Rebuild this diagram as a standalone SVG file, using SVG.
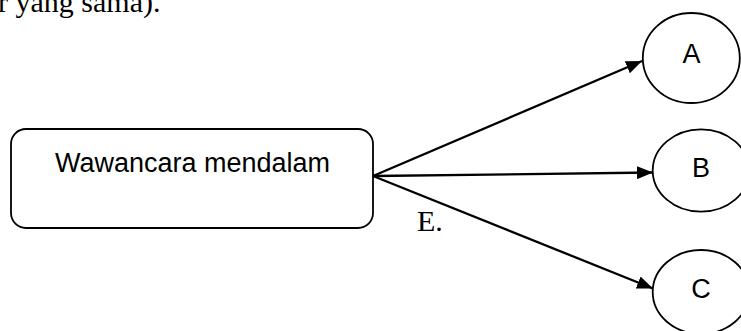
<svg xmlns="http://www.w3.org/2000/svg" width="741" height="331" viewBox="0 0 741 331">
<style>
.shape{fill:#fff;stroke:#000;stroke-width:1.8}
.lbl{font-family:"Liberation Sans",Arial,sans-serif;font-size:27px;fill:#000}
.tnr{font-family:"Liberation Serif","Times New Roman",serif;font-size:30px;fill:#000}
.conn{stroke:#000;stroke-width:2.3;fill:none;marker-end:url(#arr)}
</style>
<defs>
<marker id="arr" markerUnits="userSpaceOnUse" markerWidth="17" markerHeight="13" refX="16" refY="6.5" orient="auto">
<path d="M0,0 L16,6.5 L0,13 Z" fill="#000"/>
</marker>
</defs>
<rect width="741" height="331" fill="#fff"/>
<text class="tnr" x="-2" y="12">r yang sama).</text>
<g id="box">
<rect class="shape" x="11" y="129" width="362" height="99" rx="15" ry="15"/>
<text class="lbl" x="55" y="172">Wawancara mendalam</text>
</g>
<g id="nodeA">
<ellipse class="shape" cx="691.3" cy="58" rx="48.5" ry="45"/>
<text class="lbl" x="691.5" y="63" text-anchor="middle">A</text>
</g>
<g id="nodeB">
<ellipse class="shape" cx="701" cy="170.5" rx="48.3" ry="41.2"/>
<text class="lbl" x="701" y="177" text-anchor="middle">B</text>
</g>
<g id="nodeC">
<ellipse class="shape" cx="701" cy="292" rx="48.3" ry="42"/>
<text class="lbl" x="701" y="298" text-anchor="middle">C</text>
</g>
<g id="connectors">
<line class="conn" x1="373" y1="176" x2="642" y2="61"/>
<line class="conn" x1="373" y1="176" x2="653" y2="172.5"/>
<line class="conn" x1="373" y1="176" x2="653" y2="288.5"/>
</g>
<text class="tnr" x="417" y="231">E.</text>
</svg>
